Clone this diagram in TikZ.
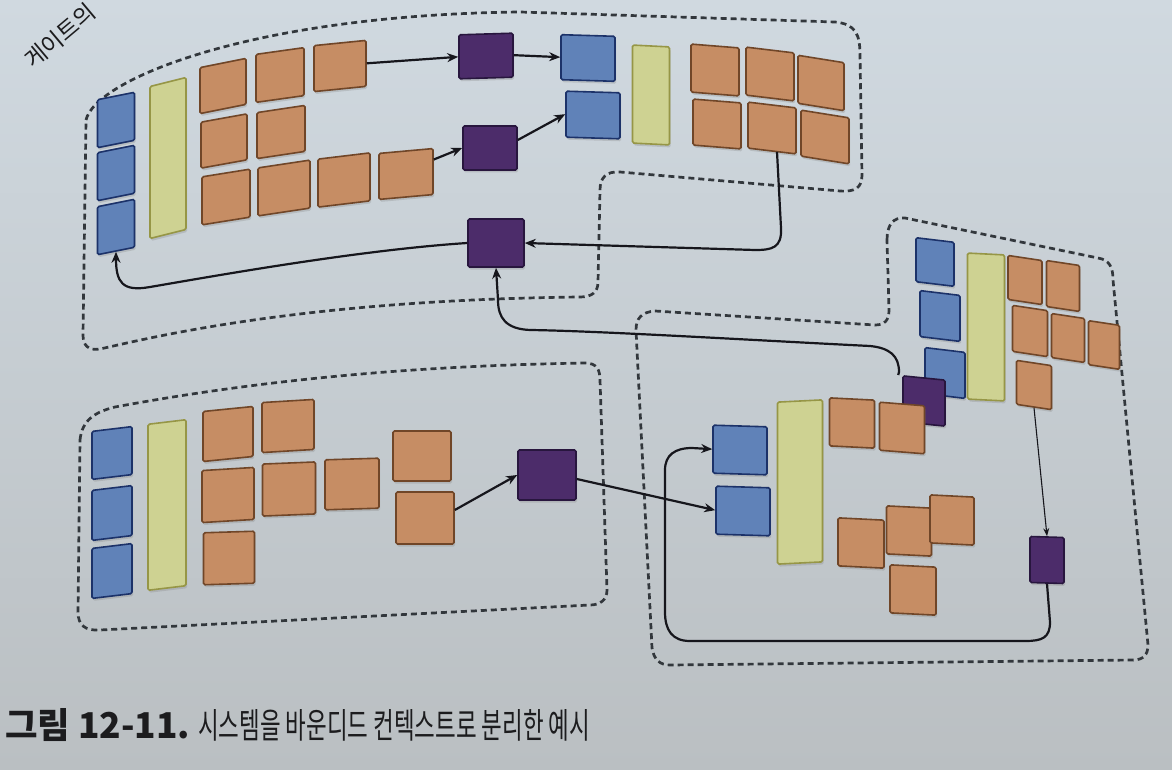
\documentclass[tikz,border=0pt]{standalone}
\usepackage{fontspec}
\newfontfamily\kr{Noto Sans CJK KR}
\usetikzlibrary{arrows.meta,shadows}
\definecolor{bgtop}{RGB}{208,217,224}
\definecolor{bgbot}{RGB}{186,191,194}
\definecolor{bluef}{RGB}{96,130,184}
\definecolor{blued}{RGB}{28,50,105}
\definecolor{yelf}{RGB}{206,210,146}
\definecolor{yeld}{RGB}{150,150,70}
\definecolor{ornf}{RGB}{198,141,100}
\definecolor{ornd}{RGB}{112,70,40}
\definecolor{purf}{RGB}{76,44,106}
\definecolor{purd}{RGB}{40,22,62}
\definecolor{dashc}{RGB}{50,55,60}
\definecolor{linec}{RGB}{22,22,28}
\definecolor{capc}{RGB}{28,28,30}
\tikzset{
 note/.style={draw, line width=1.6pt, rounded corners=1.5pt, inner sep=0pt,
   drop shadow={shadow xshift=1.2pt, shadow yshift=-2.5pt, opacity=0.28}},
 blu/.style={note, fill=bluef, draw=blued},
 yel/.style={note, fill=yelf, draw=yeld},
 orn/.style={note, fill=ornf, draw=ornd},
 pur/.style={note, fill=purf, draw=purd},
 sz/.style 2 args={minimum width=#1, minimum height=#2},
 bound/.style={draw=dashc, line width=2.7pt, dash pattern=on 6pt off 4pt},
 conn/.style={draw=linec, line width=2.2pt, -{Stealth[length=11pt,width=9pt]}},
 thinconn/.style={draw=linec, line width=1.1pt, -{Stealth[length=8pt,width=6pt]}}
}
\begin{document}
\begin{tikzpicture}[x=1pt,y=-1pt]
\useasboundingbox (0,0) rectangle (1172,770);
\shade[top color=bgtop, bottom color=bgbot] (0,0) rectangle (1172,770);

% boundaries
\draw[bound] (86,120) .. controls (95,80) and (250,15) .. (520,12) -- (835,22)
  .. controls (856,24) and (860,35) .. (860,55) -- (862,175)
  .. controls (862,188) and (855,192) .. (840,191) -- (620,172)
  .. controls (606,171) and (600,178) .. (600,190) -- (598,282)
  .. controls (598,292) and (592,297) .. (580,297)
  .. controls (300,300) and (150,338) .. (100,349)
  .. controls (88,351) and (83,345) .. (83,335) -- cycle;
\draw[bound] (80,440) .. controls (82,420) and (95,412) .. (115,407)
  .. controls (250,382) and (400,366) .. (585,363)
  .. controls (597,363) and (600,370) .. (600,380) -- (607,590)
  .. controls (607,600) and (600,605) .. (590,605) -- (100,630)
  .. controls (85,631) and (78,625) .. (78,612) -- cycle;
\draw[bound] (887,240) .. controls (887,225) and (893,217) .. (905,218) -- (1098,258)
  .. controls (1110,260) and (1113,268) .. (1113,280) -- (1148,645)
  .. controls (1148,655) and (1143,660) .. (1133,660) -- (670,665)
  .. controls (660,665) and (654,660) .. (652,648) -- (636,330)
  .. controls (636,318) and (642,312) .. (655,311) -- (875,325)
  .. controls (885,325) and (889,320) .. (889,310) -- cycle;

% top group
\node[blu, sz={37}{48}, yslant=0.2] (tb1) at (116,120) {};
\node[blu, sz={37}{48}, yslant=0.2] (tb2) at (116,173) {};
\node[blu, sz={37}{48}, yslant=0.2] (tb3) at (116,227) {};
\node[yel, sz={36}{152}, yslant=0.25] (ty1) at (168,158) {};
\node[orn, sz={46}{46}, yslant=0.2] (o11) at (223,86) {};
\node[orn, sz={48}{48}, yslant=0.14] (o12) at (280,75) {};
\node[orn, sz={52}{46}, yslant=0.1] (o13) at (340,66) {};
\node[orn, sz={46}{46}, yslant=0.18] (o21) at (224,141) {};
\node[orn, sz={48}{46}, yslant=0.15] (o22) at (281,132) {};
\node[orn, sz={48}{48}, yslant=0.16] (o31) at (226,197) {};
\node[orn, sz={52}{48}, yslant=0.15] (o32) at (284,188) {};
\node[orn, sz={52}{48}, yslant=0.12] (o33) at (344,180) {};
\node[orn, sz={54}{46}, yslant=0.09] (o34) at (406,174) {};
\node[pur, sz={54}{44}, yslant=0.03] (p1) at (486,56) {};
\node[blu, sz={54}{45}, yslant=-0.03] (tb4) at (588,58) {};
\node[pur, sz={54}{44}] (p2) at (490,148) {};
\node[blu, sz={54}{46}, yslant=-0.03] (tb5) at (593,115) {};
\node[yel, sz={37}{98}, yslant=-0.05] (ty2) at (651,95) {};
\node[orn, sz={48}{48}, yslant=-0.08] (or1) at (715,70) {};
\node[orn, sz={48}{48}, yslant=-0.12] (or2) at (770,74) {};
\node[orn, sz={46}{48}, yslant=-0.16] (or3) at (821,83) {};
\node[orn, sz={48}{46}, yslant=-0.08] (or4) at (717,124) {};
\node[orn, sz={48}{46}, yslant=-0.12] (or5) at (772,128) {};
\node[orn, sz={48}{46}, yslant=-0.16] (or6) at (825,137) {};
\node[pur, sz={56}{48}] (p3) at (496,243) {};

% bottom-left group
\node[blu, sz={40}{48}, yslant=0.12] (bb1) at (112,453) {};
\node[blu, sz={40}{50}, yslant=0.12] (bb2) at (112,513) {};
\node[blu, sz={40}{50}, yslant=0.12] (bb3) at (112,571) {};
\node[yel, sz={38}{166}, yslant=0.12] (by) at (167,505) {};
\node[orn, sz={50}{50}, yslant=0.1] (bo1) at (228,434) {};
\node[orn, sz={52}{50}, yslant=0.06] (bo2) at (288,426) {};
\node[orn, sz={52}{52}, yslant=0.06] (bo3) at (228,495) {};
\node[orn, sz={53}{52}, yslant=0.04] (bo4) at (289,489) {};
\node[orn, sz={54}{50}, yslant=0.03] (bo5) at (352,484) {};
\node[orn, sz={51}{52}, yslant=0.03] (bo6) at (229,558) {};
\node[orn, sz={58}{50}] (bo7) at (422,456) {};
\node[orn, sz={58}{52}] (bo8) at (425,518) {};
\node[pur, sz={58}{50}] (p4) at (547,475) {};

% right group, upper part
\node[blu, sz={38}{44}, yslant=-0.12] (rub1) at (935,262) {};
\node[blu, sz={40}{46}, yslant=-0.12] (rub2) at (940,316) {};
\node[blu, sz={40}{46}, yslant=-0.12] (rub3) at (945,373) {};
\node[yel, sz={37}{146}, yslant=-0.05] (ruy) at (986,327) {};
\node[orn, sz={34}{44}, yslant=-0.15] (ruo1) at (1025,280) {};
\node[orn, sz={33}{46}, yslant=-0.15] (ruo2) at (1063,286) {};
\node[orn, sz={35}{46}, yslant=-0.15] (ruo3) at (1030,331) {};
\node[orn, sz={33}{44}, yslant=-0.15] (ruo4) at (1068,338) {};
\node[orn, sz={31}{44}, yslant=-0.15] (ruo5) at (1104,345) {};
\node[orn, sz={35}{44}, yslant=-0.15] (ruo6) at (1034,385) {};
\node[pur, sz={42}{46}, yslant=-0.1] (p5) at (924,401) {};

% right group, lower part
\node[blu, sz={54}{48}, yslant=-0.03] (rb1) at (740,450) {};
\node[blu, sz={54}{48}, yslant=-0.03] (rb2) at (743,511) {};
\node[yel, sz={45}{162}, yslant=0.05] (rly) at (800,482) {};
\node[orn, sz={45}{48}, yslant=-0.05] (rlo1) at (852,423) {};
\node[orn, sz={45}{48}, yslant=-0.08] (rlo2) at (902,428) {};
\node[orn, sz={46}{48}, yslant=-0.05] (rlo3) at (861,543) {};
\node[orn, sz={45}{48}, yslant=-0.05] (rlo4) at (909,531) {};
\node[orn, sz={44}{48}, yslant=-0.05] (rlo5) at (952,520) {};
\node[orn, sz={46}{48}, yslant=-0.05] (rlo6) at (913,590) {};
\node[pur, sz={34}{46}, yslant=-0.03] (p6) at (1047,560) {};

% connectors
\draw[conn] (o13.east) -- (p1.west);
\draw[conn] (p1.east) -- (tb4.west);
\draw[conn] ([yshift=12pt]o34.east) -- (p2.west);
\draw[conn] ([yshift=8pt]p2.east) -- (tb5.west);
\draw[conn] ([xshift=5pt]or5.south) -- (781,228) .. controls (782,248) and (772,250) .. (755,250) -- (p3.east);
\draw[conn] (p3.west) .. controls (360,250) and (220,275) .. (150,287) .. controls (122,292) and (116,282) .. (tb3.south);
\draw[conn] ([xshift=-4pt]p5.north west) -- (899,372) .. controls (899,356) and (890,348) .. (870,346)
  .. controls (750,340) and (600,331) .. (530,330) .. controls (506,329) and (498,318) .. (498,300) -- (p3.south);
\draw[thinconn] (ruo6.south) -- (p6.north);
\draw[conn] (p6.south) -- (1050,622) .. controls (1050,638) and (1042,641) .. (1025,641) -- (690,641)
  .. controls (672,641) and (665,630) .. (665,612) -- (665,470) .. controls (665,455) and (675,448) .. (692,448) -- (rb1.west);
\draw[conn] ([yshift=8pt]bo8.east) -- (p4.west);
\draw[conn] ([yshift=-4pt]p4.east) -- (rb2.west);

% texts
\node[rotate=40, inner sep=0pt, text=capc, font=\kr\fontsize{23}{23}\selectfont] (gate) at (60,36) {게이트의};
\node[anchor=base west, inner sep=0pt, text=capc] (cap1) at (5,738) {\resizebox{185pt}{30pt}{\kr\bfseries 그림 12-11.}};
\node[anchor=base west, inner sep=0pt, text=capc] (cap2) at (198,738) {\resizebox{392pt}{29pt}{\kr 시스템을 바운디드 컨텍스트로 분리한 예시}};
\end{tikzpicture}
\end{document}
